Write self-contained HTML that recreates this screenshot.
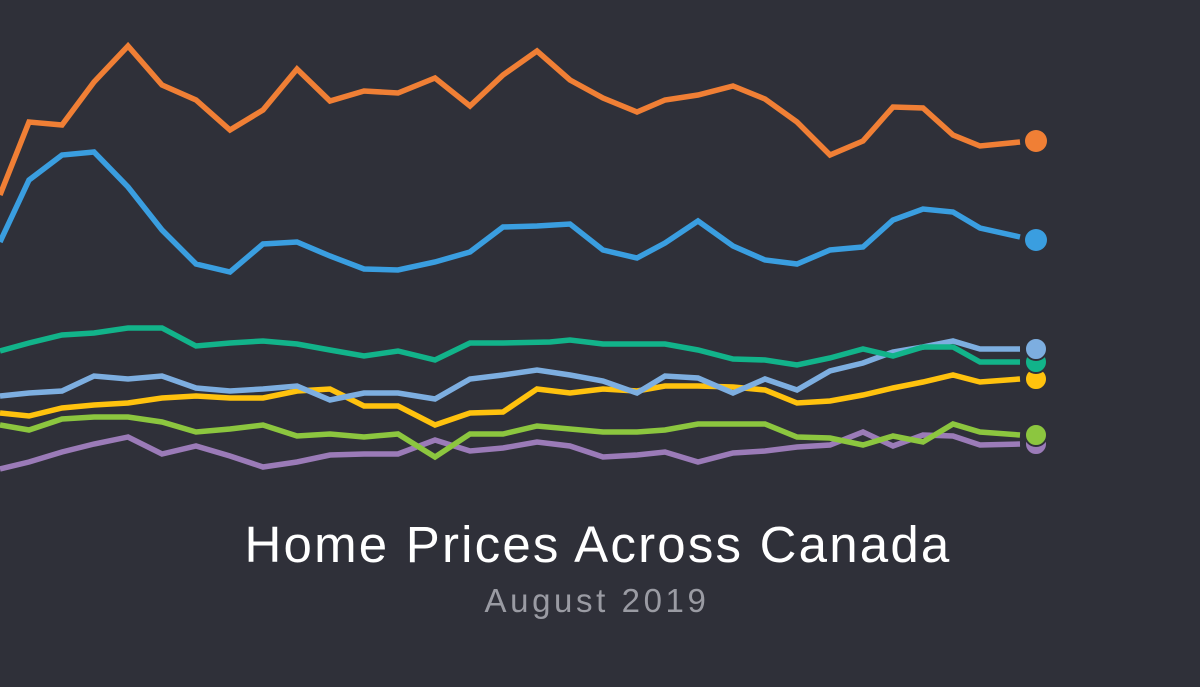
<!DOCTYPE html>
<html><head><meta charset="utf-8"><style>
html,body{margin:0;padding:0;background:#2f3039;}
svg{display:block}
</style></head><body>
<svg width="1200" height="687" viewBox="0 0 1200 687" xmlns="http://www.w3.org/2000/svg">
<rect width="1200" height="687" fill="#2f3039"/>
<g fill="none" stroke-width="5.5" stroke-linejoin="miter" stroke-linecap="butt">
<polyline stroke="#9b7bb8" points="0,469 29,462 62,452 94,444 128,437 162,454 196,446 230,456 263,467 297,462 330,455 364,454 398,454 435,440 470,451 503,448 537,442 570,446 603,457 637,455 665,452 698,462 733,453 765,451 797,447 830,445 863,432 893,446 923,435 953,436 980,445 1020,444"/>
<polyline stroke="#8cc63f" points="0,425 29,430 62,419 94,417 128,417 162,422 196,432 230,429 263,425 297,436 330,434 364,437 398,434 435,457 470,434 503,434 537,426 570,429 603,432 637,432 665,430 698,424 733,424 765,424 797,437 830,438 863,445 893,436 923,442 953,424 980,432 1020,435"/>
<polyline stroke="#ffc20e" points="0,413 29,416 62,408 94,405 128,403 162,398 196,396 230,398 263,398 297,391 330,389 364,406 398,406 435,425 470,413 503,412 537,389 570,393 603,389 637,391 665,386 698,386 733,387 765,390 797,403 830,401 863,395 893,388 923,382 953,375 980,382 1020,379"/>
<polyline stroke="#7daee0" points="0,396 29,393 62,391 94,376 128,379 162,376 196,388 230,391 263,389 297,386 330,400 364,393 398,393 435,399 470,379 503,375 537,370 570,375 603,381 637,393 665,376 698,378 733,393 765,379 797,390 830,371 863,363 893,352 923,347 953,341 980,349 1020,349"/>
<polyline stroke="#12b38a" points="0,351 29,343 62,335 94,333 128,328 162,328 196,346 230,343 263,341 297,344 330,350 364,356 398,351 435,360 470,343 503,343 550,342 570,340 603,344 665,344 698,350 733,359 765,360 797,365 830,358 863,349 893,356 923,347 953,347 980,362 1020,362"/>
<polyline stroke="#3a9ee0" points="0,242 29,180 62,155 94,152 128,187 162,230 196,264 230,272 263,244 297,242 330,256 364,269 398,270 435,262 470,252 503,227 537,226 570,224 603,250 637,258 665,243 698,221 733,246 765,260 797,264 830,250 863,247 893,220 923,209 953,212 980,228 1020,237"/>
<polyline stroke="#f07f35" points="0,195 29,122 62,125 94,82 128,46 162,85 196,100 230,130 263,110 297,69 330,101 364,91 398,93 435,78 470,106 503,75 537,51 570,80 603,98 637,112 665,100 698,95 733,86 765,99 797,122 830,155 863,141 893,107 923,108 953,135 980,146 1020,142"/>
</g>
<circle cx="1036" cy="444" r="11" fill="#9b7bb8" stroke="#2f3039" stroke-width="2"/>
<circle cx="1036" cy="435" r="11" fill="#8cc63f" stroke="#2f3039" stroke-width="2"/>
<circle cx="1036" cy="379" r="11" fill="#ffc20e" stroke="#2f3039" stroke-width="2"/>
<circle cx="1036" cy="362" r="11" fill="#12b38a" stroke="#2f3039" stroke-width="2"/>
<circle cx="1036" cy="349" r="11" fill="#7daee0" stroke="#2f3039" stroke-width="2"/>
<circle cx="1036" cy="240" r="11" fill="#3a9ee0"/>
<circle cx="1036" cy="141" r="11" fill="#f07f35"/>
<text x="598" y="562" text-anchor="middle" fill="#ffffff" font-family="Liberation Sans, sans-serif" font-size="51" letter-spacing="2.2">Home Prices Across Canada</text>
<text x="597" y="612" text-anchor="middle" fill="#9a9ba3" font-family="Liberation Sans, sans-serif" font-size="33" letter-spacing="3.6">August 2019</text>
</svg>
</body></html>
